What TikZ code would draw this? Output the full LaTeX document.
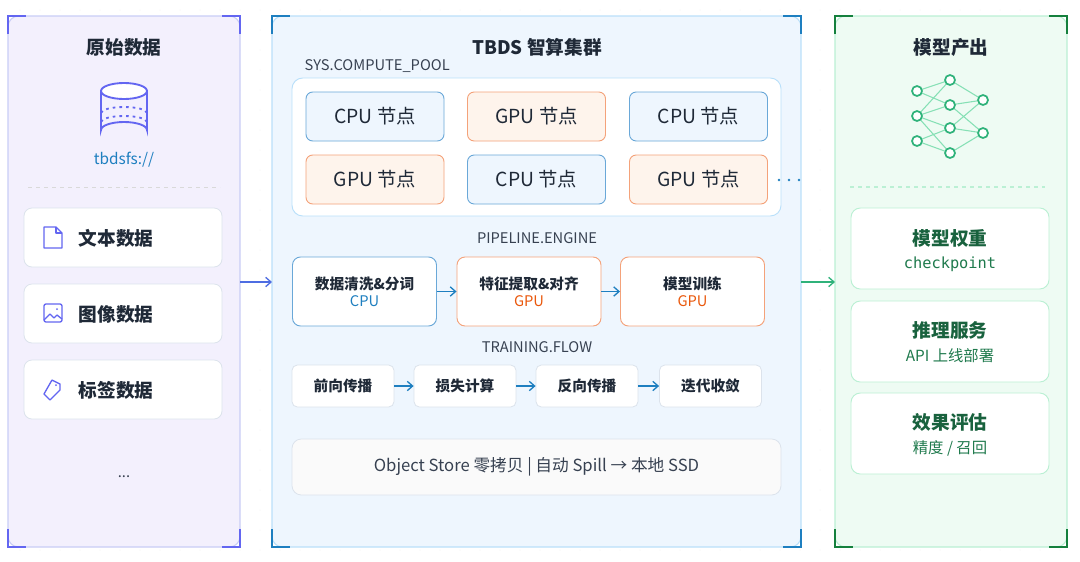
\documentclass[tikz,border=0pt]{standalone}
\usepackage{fontspec}
\setmainfont{Noto Sans CJK SC}
\newfontfamily\mono{DejaVu Sans Mono}
\usetikzlibrary{arrows.meta}
\definecolor{lpf}{HTML}{F3F0FD}\definecolor{lpb}{HTML}{C9CDF6}\definecolor{lbr}{HTML}{6366F1}
\definecolor{mpf}{HTML}{EEF6FE}\definecolor{mpb}{HTML}{BAE0FA}\definecolor{mbr}{HTML}{1E7FC0}
\definecolor{rpf}{HTML}{EEFBF3}\definecolor{rpb}{HTML}{BBF0D4}\definecolor{rbr}{HTML}{15803D}
\definecolor{txt}{HTML}{1F2937}\definecolor{sub}{HTML}{374151}
\definecolor{cpuf}{HTML}{EEF6FE}\definecolor{cpub}{HTML}{6AA8D8}\definecolor{cput}{HTML}{1E7FC0}
\definecolor{gpuf}{HTML}{FEF4EC}\definecolor{gpub}{HTML}{F4A27A}\definecolor{gput}{HTML}{EA580C}
\definecolor{grn}{HTML}{1F7A4D}\definecolor{grnl}{HTML}{2FB27A}\definecolor{grnf}{HTML}{86E0B5}
\definecolor{card}{HTML}{DCE3EC}
\begin{document}
\begin{tikzpicture}[x=0.75pt,y=-0.75pt,
 panel/.style={rounded corners=8pt,line width=0.8pt},
 br/.style={line width=1.8pt},
 ttl/.style={font=\fontsize{14}{15}\selectfont\bfseries,text=txt},
 lcard/.style={draw=card,fill=white,rounded corners=6pt,line width=0.6pt},
 ltxt/.style={font=\fontsize{14}{15}\selectfont\bfseries,text=txt,anchor=west},
 nd/.style={rounded corners=5pt,line width=0.7pt,minimum width=103.5pt,minimum height=36.75pt,font=\fontsize{14.5}{15}\selectfont,text=txt},
 cpu/.style={nd,draw=cpub,fill=cpuf},
 gpu/.style={nd,draw=gpub,fill=gpuf},
 pipe/.style={rounded corners=6pt,fill=white,line width=0.7pt,minimum width=108pt,minimum height=51.75pt,align=center,font=\fontsize{11}{15}\selectfont},
 flow/.style={draw=card,fill=white,rounded corners=4pt,line width=0.6pt,minimum width=76.5pt,minimum height=31.5pt,font=\fontsize{11}{12}\selectfont,text=txt},
 lab/.style={font=\fontsize{11}{12}\selectfont,text=sub},
 arr/.style={-{Straight Barb[length=4pt,width=7pt]},line width=1pt,draw=mbr},
 rcard/.style={draw=rpb,fill=white,rounded corners=7pt,line width=0.7pt,minimum width=148.5pt,minimum height=60.75pt},
]
\useasboundingbox (0,0) rectangle (1080,561);
\fill[white] (0,0) rectangle (1080,561);
\foreach \x in {20,40,...,1070}{\foreach \y in {10,30,...,560}{\fill[black!6] (\x,\y) circle (0.5);}}
\draw[panel,fill=lpf,draw=lpb] (8,16) rectangle (240,547);
\draw[panel,fill=mpf,draw=mpb] (272,16) rectangle (801,547);
\draw[panel,fill=rpf,draw=rpb] (835,16) rectangle (1067,547);
\foreach \a/\b/\c in {8/240/lbr,272/801/mbr,835/1067/rbr}{
 \draw[br,\c] (\a,34)--(\a,16)--(\a+18,16);
 \draw[br,\c] (\b-18,16)--(\b,16)--(\b,34);
 \draw[br,\c] (\a,529)--(\a,547)--(\a+18,547);
 \draw[br,\c] (\b-18,547)--(\b,547)--(\b,529);}
\node[ttl] (t1) at (124,47) {原始数据};
\node[ttl] (t2) at (537,47) {TBDS 智算集群};
\node[ttl] (t3) at (951,47) {模型产出};
\begin{scope}[lbr,line width=1.4pt]
\draw[fill=white] (124,91) ellipse (23 and 8);
\draw (101,91)--(101,130) arc[start angle=180,end angle=360,x radius=23,y radius=8]--(147,91);
\draw[dash pattern=on 2pt off 3pt] (101,113) arc[start angle=180,end angle=360,x radius=23,y radius=6];
\draw[dash pattern=on 2pt off 3pt] (101,122) arc[start angle=180,end angle=360,x radius=23,y radius=6];
\end{scope}
\node[font=\fontsize{11.5}{12}\selectfont,text=cput] (fs) at (124,160) {tbdsfs://};
\draw[dashed,draw=black!15,line width=0.6pt] (28,187)--(220,187);
\draw[dashed,draw=rpb,line width=0.8pt] (850,187)--(1045,187);
\draw[lcard] (24,208) rectangle (222,267);
\draw[lcard] (24,284) rectangle (222,343);
\draw[lcard] (24,360) rectangle (222,419);
\node[ltxt] (c1) at (74,238) {文本数据};
\node[ltxt] (c2) at (74,314) {图像数据};
\node[ltxt] (c3) at (74,390) {标签数据};
\begin{scope}[lbr,line width=1pt,line join=round]
\draw (44,227)--(56,227)--(62,233)--(62,248)--(44,248)--cycle;
\draw (56,227)--(56,233)--(62,233);
\draw[rounded corners=1.5pt] (44,304) rectangle (62,322);
\draw (44,320)--(50,314)--(54,318)--(57,315)--(62,319);
\fill (57,309) circle (1);
\draw (52,380)--(60,384)--(60,390)--(50,400)--(44,394)--(52,380);
\fill (56,385) circle (1);
\end{scope}
\node[font=\fontsize{11}{12}\selectfont,text=sub] (dots) at (124,477) {...};
\node[lab,anchor=west] (pl) at (300,66) {SYS.COMPUTE\_POOL};
\draw[draw=mpb,fill=white,rounded corners=8pt,line width=0.7pt] (292,78) rectangle (781,216);
\node[cpu] (n1) at (375,116.5) {CPU 节点};
\node[gpu] (n2) at (536.5,116.5) {GPU 节点};
\node[cpu] (n3) at (698.5,116.5) {CPU 节点};
\node[gpu] (n4) at (375,179.5) {GPU 节点};
\node[cpu] (n5) at (536.5,179.5) {CPU 节点};
\node[gpu] (n6) at (698.5,179.5) {GPU 节点};
\foreach \x in {779,789,799}{\fill[cput] (\x,180) circle (1.3);}
\node[lab] (pe) at (537,238) {PIPELINE.ENGINE};
\node[pipe,draw=cpub] (p1) at (364.5,291.5) {\textbf{\color{txt}数据清洗\&分词}\\[-2pt]{\color{cput}CPU}};
\node[pipe,draw=gpub] (p2) at (529,291.5) {\textbf{\color{txt}特征提取\&对齐}\\[-2pt]{\color{gput}GPU}};
\node[pipe,draw=gpub] (p3) at (692.5,291.5) {\textbf{\color{txt}模型训练}\\[-2pt]{\color{gput}GPU}};
\draw[arr] (p1)--(p2); \draw[arr] (p2)--(p3);
\node[lab] (tf) at (537,347) {TRAINING.FLOW};
\node[flow] (f1) at (343,386) {\textbf{前向传播}};
\node[flow] (f2) at (465,386) {\textbf{损失计算}};
\node[flow] (f3) at (587,386) {\textbf{反向传播}};
\node[flow] (f4) at (710.5,386) {\textbf{迭代收敛}};
\draw[arr] (f1)--(f2); \draw[arr] (f2)--(f3); \draw[arr] (f3)--(f4);
\node[draw=card,fill=black!2!white,rounded corners=7pt,line width=0.6pt,minimum width=366.75pt,minimum height=42pt,font=\fontsize{12.5}{13}\selectfont,text=sub] (os) at (536.5,467) {Object Store 零拷贝 | 自动 Spill → 本地 SSD};
\coordinate (a1) at (240,282); \coordinate (a2) at (272,282);
\coordinate (b1) at (801,282); \coordinate (b2) at (835,282);
\draw[arr,draw=lbr!70!mbr] (a1)--(a2);
\draw[-{Straight Barb[length=4pt,width=7pt]},line width=1pt,draw=grnl] (b1)--(b2);
\foreach \n/\x/\y in {i1/917/91,i2/917/116,i3/917/141,h1/950/80,h2/950/105,h3/950/128,h4/950/153,o1/983/100,o2/983/133}{\coordinate (\n) at (\x,\y);}
\foreach \a/\b in {i1/h1,i1/h2,i2/h1,i2/h2,i2/h3,i2/h4,i3/h3,i3/h4,h1/o1,h2/o1,h2/o2,h3/o1,h3/o2,h4/o2}{\draw[grnf,line width=0.8pt] (\a)--(\b);}
\foreach \n in {i1,i2,i3,h1,h2,h3,h4,o1,o2}{\draw[grnl,fill=white,line width=1.3pt] (\n) circle (5);}
\node[rcard] (r1) at (950,248.5) {};
\node[rcard] (r2) at (950,341.5) {};
\node[rcard] (r3) at (950,433.5) {};
\node[ttl,text=grn!80!black] (r1t) at (950,238) {模型权重};
\node[font=\mono\fontsize{11.5}{12}\selectfont,text=grn] (r1s) at (950,264) {checkpoint};
\node[ttl,text=grn!80!black] (r2t) at (950,330) {推理服务};
\node[font=\fontsize{11.5}{12}\selectfont,text=grn] (r2s) at (950,356) {API 上线部署};
\node[ttl,text=grn!80!black] (r3t) at (950,422) {效果评估};
\node[font=\fontsize{11.5}{12}\selectfont,text=grn] (r3s) at (950,448) {精度 / 召回};
\end{tikzpicture}
\end{document}
